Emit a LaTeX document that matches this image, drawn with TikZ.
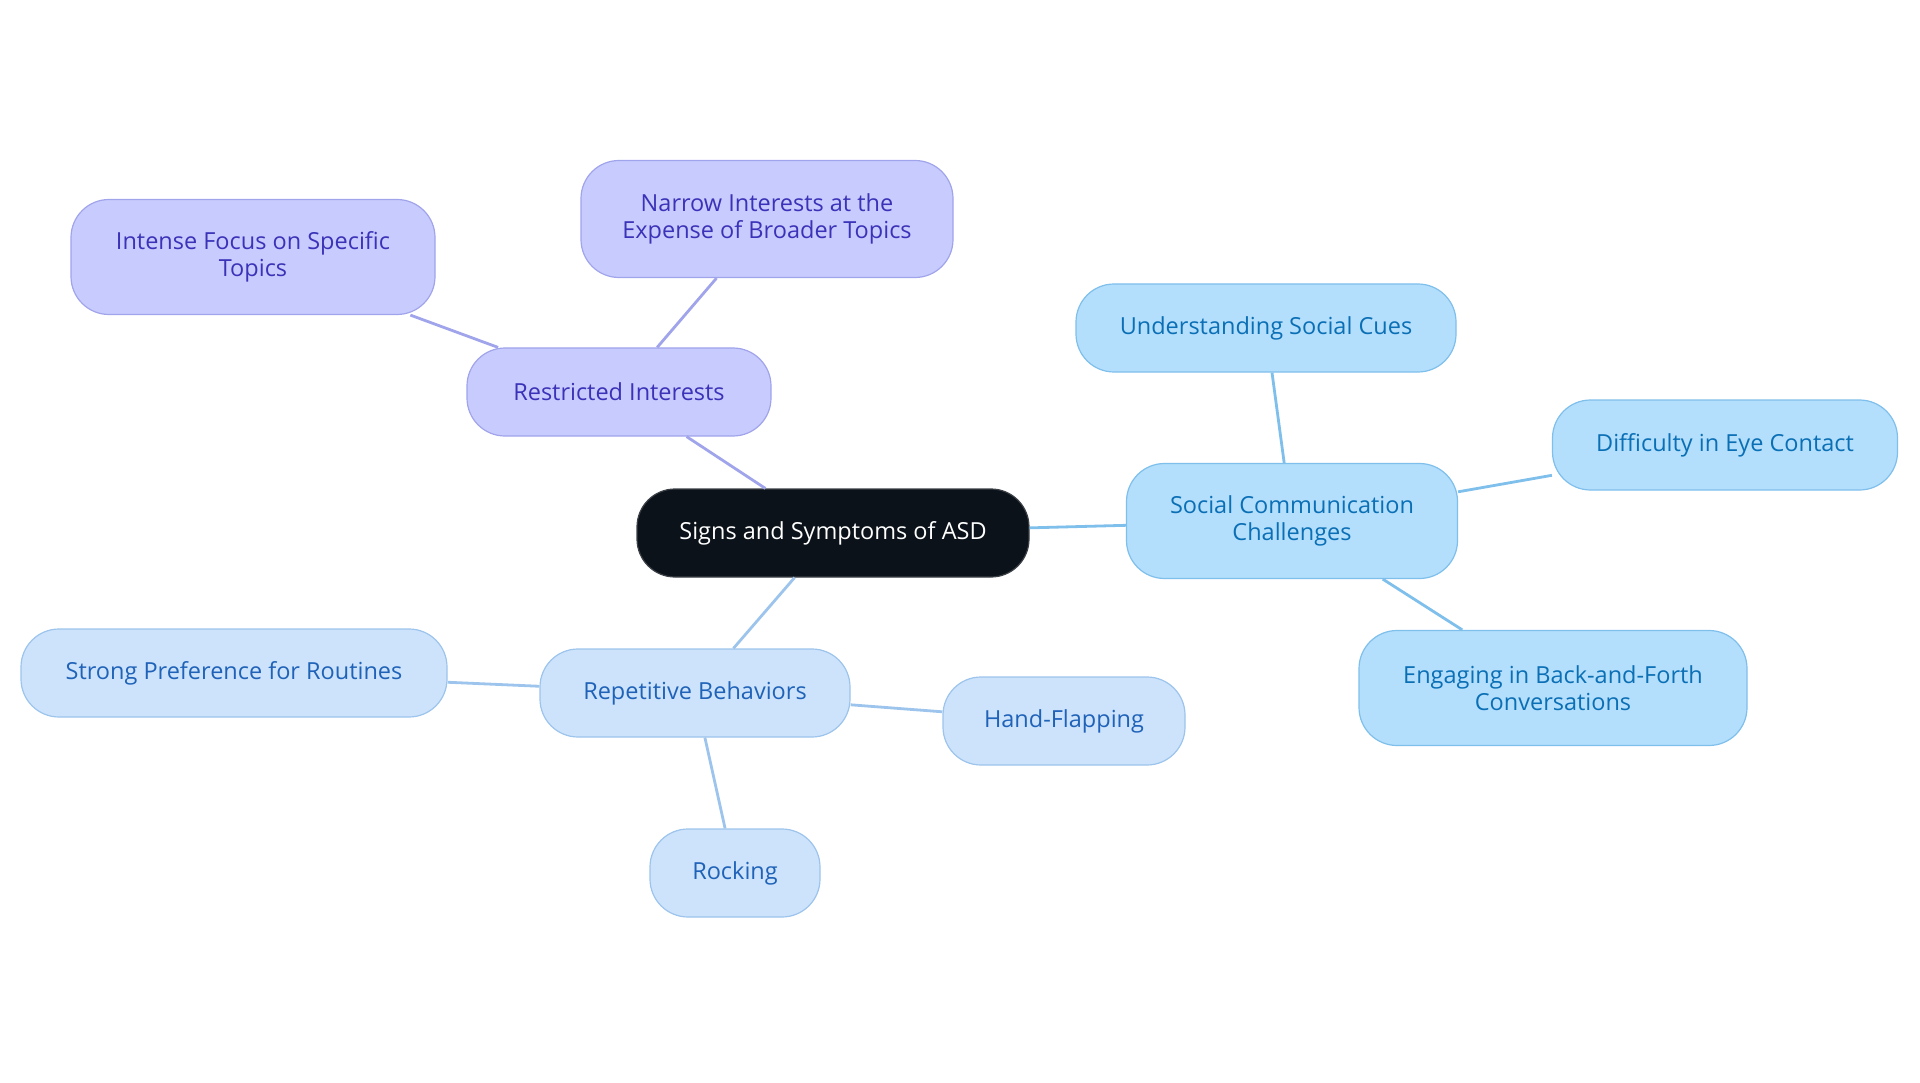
\documentclass[tikz,border=0pt]{standalone}
\usepackage{fontspec}
\setmainfont{Open Sans}
\definecolor{rootfill}{HTML}{0B1219}
\definecolor{purfill}{HTML}{C8CBFD}
\definecolor{purline}{HTML}{A0A4EB}
\definecolor{purtext}{HTML}{3A32B8}
\definecolor{socfill}{HTML}{B3DEFC}
\definecolor{socline}{HTML}{7FBFEB}
\definecolor{soctext}{HTML}{0A6FB5}
\definecolor{repfill}{HTML}{CCE3FB}
\definecolor{repline}{HTML}{9DC4EC}
\definecolor{reptext}{HTML}{1F62B8}
\begin{document}
\begin{tikzpicture}[x=1pt,y=-1pt,
    box/.style={rounded corners=38pt,line width=1.2pt,align=center,
      minimum height=88pt,inner sep=0pt,font=\fontsize{23.5}{27}\selectfont},
    root/.style={box,fill=rootfill,draw=rootfill!80!white,text=white},
    purbox/.style={box,fill=purfill,draw=purline,text=purtext},
    socbox/.style={box,fill=socfill,draw=socline,text=soctext},
    repbox/.style={box,fill=repfill,draw=repline,text=reptext},
    link/.style={line width=2.8pt}]
    \useasboundingbox (0,0) rectangle (1920,1083);

    \node[root, minimum width=392pt] (asd) at (833,533) {Signs and Symptoms of ASD};

    \node[purbox, minimum width=304pt] (ri) at (619,392) {Restricted Interests};
    \node[purbox, minimum width=372pt, minimum height=117pt] (ni) at (767,219) {Narrow Interests at the\\Expense of Broader Topics};
    \node[purbox, minimum width=364pt, minimum height=115pt] (if) at (253,257) {Intense Focus on Specific\\Topics};

    \node[socbox, minimum width=331pt, minimum height=115pt] (sc) at (1292,521) {Social Communication\\Challenges};
    \node[socbox, minimum width=380pt] (us) at (1266,328) {Understanding Social Cues};
    \node[socbox, minimum width=345pt, minimum height=90pt] (de) at (1725,445) {Difficulty in Eye Contact};
    \node[socbox, minimum width=388pt, minimum height=115pt] (eb) at (1553,688) {Engaging in Back-and-Forth\\Conversations};

    \node[repbox, minimum width=310pt] (rb) at (695,693) {Repetitive Behaviors};
    \node[repbox, minimum width=426pt] (sp) at (234,673) {Strong Preference for Routines};
    \node[repbox, minimum width=242pt] (hf) at (1064,721) {Hand-Flapping};
    \node[repbox, minimum width=170pt] (ro) at (735,873) {Rocking};

    \draw[link, purline] (asd) -- (ri);
    \draw[link, purline] (ri) -- (ni);
    \draw[link, purline] (ri) -- (if);
    \draw[link, socline] (asd) -- (sc);
    \draw[link, socline] (sc) -- (us);
    \draw[link, socline] (sc) -- (de);
    \draw[link, socline] (sc) -- (eb);
    \draw[link, repline] (asd) -- (rb);
    \draw[link, repline] (rb) -- (sp);
    \draw[link, repline] (rb) -- (hf);
    \draw[link, repline] (rb) -- (ro);
\end{tikzpicture}
\end{document}
